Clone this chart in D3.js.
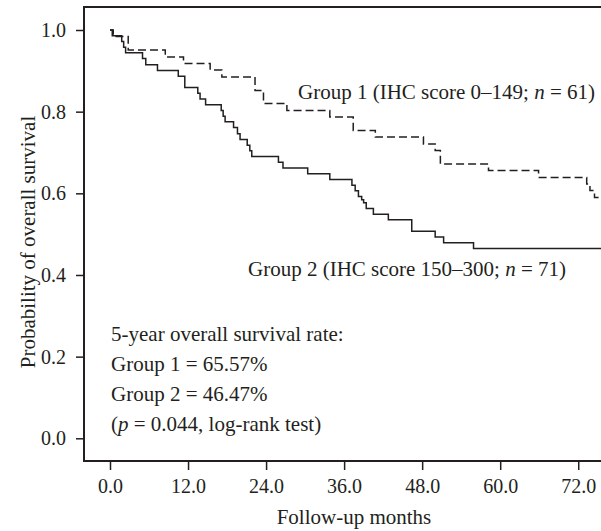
<!DOCTYPE html>
<html>
<head>
<meta charset="utf-8">
<script src="https://cdn.jsdelivr.net/npm/d3@7"></script>
<style>
  body { margin: 0; background: #fff; }
  svg { display: block; }
  text { font-family: "Liberation Serif", "Times New Roman", serif; fill: #231f20; }
</style>
</head>
<body>
<div id="chart"></div>
<script>
// Kaplan-Meier steps (months, survival probability)
var group1Months = [0, 0.5, 2.8, 8.5, 11.3, 15.4, 17.2, 22.3, 23.6, 27.2, 33.8, 37.4, 40.8, 48.2, 50.0, 50.8, 58.2, 65.9, 73.3, 73.8, 74.5, 75.5];
var group1Surv = [1.0, 0.984, 0.951, 0.934, 0.918, 0.902, 0.885, 0.852, 0.820, 0.803, 0.787, 0.754, 0.738, 0.721, 0.705, 0.672, 0.656, 0.639, 0.623, 0.607, 0.590, 0.590];

var group2Months = [0, 0.35, 1.8, 2.1, 2.4, 5.0, 5.5, 7.3, 10.5, 11.5, 13.5, 13.85, 14.7, 17.1, 17.4, 17.7, 19.0, 19.6, 20.0, 21.1, 21.5, 21.8, 25.9, 26.6, 30.4, 33.8, 37.2, 37.7, 38.2, 38.7, 39.0, 39.4, 40.5, 42.8, 46.4, 50.0, 51.3, 55.9, 75.5];
var group2Surv = [1.0, 0.986, 0.972, 0.958, 0.944, 0.930, 0.915, 0.901, 0.887, 0.859, 0.845, 0.831, 0.817, 0.803, 0.789, 0.775, 0.761, 0.746, 0.732, 0.718, 0.704, 0.690, 0.676, 0.662, 0.648, 0.634, 0.620, 0.606, 0.592, 0.584, 0.577, 0.563, 0.549, 0.535, 0.507, 0.493, 0.479, 0.465, 0.465];

var xTicks = [0, 12, 24, 36, 48, 60, 72];
var yTicks = [0, 0.2, 0.4, 0.6, 0.8, 1.0];

var annotationLines = ["5-year overall survival rate:", "Group 1 = 65.57%", "Group 2 = 46.47%"];

(function() {
  var width = 601, height = 531;
  var ink = "#231f20";

  var svg = d3.select("#chart").append("svg")
    .attr("width", width)
    .attr("height", height);

  var x = d3.scaleLinear().domain([0, 75.5]).range([110, 601]);
  var y = d3.scaleLinear().domain([0, 1]).range([438.3, 30]);

  var plotLeft = 84, plotTop = 7, plotBottom = 461, plotRight = 601;

  // frame
  svg.append("line")
    .attr("x1", plotLeft).attr("x2", plotRight)
    .attr("y1", plotTop).attr("y2", plotTop)
    .attr("stroke", ink).attr("stroke-width", 1.8);
  svg.append("line")
    .attr("x1", plotLeft).attr("x2", plotLeft)
    .attr("y1", plotTop - 0.9).attr("y2", plotBottom + 1)
    .attr("stroke", ink).attr("stroke-width", 2);
  svg.append("line")
    .attr("x1", plotLeft - 1).attr("x2", plotRight)
    .attr("y1", plotBottom).attr("y2", plotBottom)
    .attr("stroke", ink).attr("stroke-width", 2);

  // axes
  var yAxis = svg.append("g")
    .attr("transform", "translate(" + plotLeft + ",0)")
    .call(d3.axisLeft(y).tickValues(yTicks).tickFormat(d3.format(".1f")).tickSize(8).tickPadding(10));
  var xAxis = svg.append("g")
    .attr("transform", "translate(0," + plotBottom + ")")
    .call(d3.axisBottom(x).tickValues(xTicks).tickFormat(d3.format(".1f")).tickSize(9).tickPadding(9));

  [yAxis, xAxis].forEach(function(g) {
    g.select(".domain").remove();
    g.selectAll(".tick line").attr("stroke", ink).attr("stroke-width", 1.5);
    g.selectAll(".tick text")
      .attr("fill", ink)
      .style("font-size", "20px")
      .style("font-family", "'Liberation Serif', serif");
  });

  // curves
  var line = d3.line()
    .x(function(d) { return x(d[0]); })
    .y(function(d) { return y(d[1]); })
    .curve(d3.curveStepAfter);

  var g1 = group1Months.map(function(m, i) { return [m, group1Surv[i]]; });
  var g2 = group2Months.map(function(m, i) { return [m, group2Surv[i]]; });

  svg.append("path")
    .datum(g2)
    .attr("d", line)
    .attr("fill", "none")
    .attr("stroke", ink)
    .attr("stroke-width", 1.5);

  svg.append("path")
    .datum(g1)
    .attr("d", line)
    .attr("fill", "none")
    .attr("stroke", ink)
    .attr("stroke-width", 1.5)
    .attr("stroke-dasharray", "8,4");

  // group labels
  var lab1 = svg.append("text")
    .attr("x", 298).attr("y", 99)
    .style("font-size", "21px");
  lab1.append("tspan").text("Group 1 (IHC score 0\u2013149; ");
  lab1.append("tspan").style("font-style", "italic").text("n");
  lab1.append("tspan").text(" = 61)");

  var lab2 = svg.append("text")
    .attr("x", 248).attr("y", 276)
    .style("font-size", "21px");
  lab2.append("tspan").text("Group 2 (IHC score 150\u2013300; ");
  lab2.append("tspan").style("font-style", "italic").text("n");
  lab2.append("tspan").text(" = 71)");

  // survival summary
  annotationLines.forEach(function(t, i) {
    svg.append("text")
      .attr("x", 111).attr("y", 341 + i * 30)
      .style("font-size", "21px")
      .text(t);
  });
  var pTxt = svg.append("text")
    .attr("x", 111).attr("y", 431)
    .style("font-size", "21px");
  pTxt.append("tspan").text("(");
  pTxt.append("tspan").style("font-style", "italic").text("p");
  pTxt.append("tspan").text(" = 0.044, log-rank test)");

  // axis titles
  svg.append("text")
    .attr("x", 354).attr("y", 524)
    .attr("text-anchor", "middle")
    .style("font-size", "21px")
    .text("Follow-up months");

  svg.append("text")
    .attr("transform", "translate(35,242) rotate(-90)")
    .attr("text-anchor", "middle")
    .style("font-size", "21px")
    .text("Probability of overall survival");
})();
</script>
</body>
</html>
